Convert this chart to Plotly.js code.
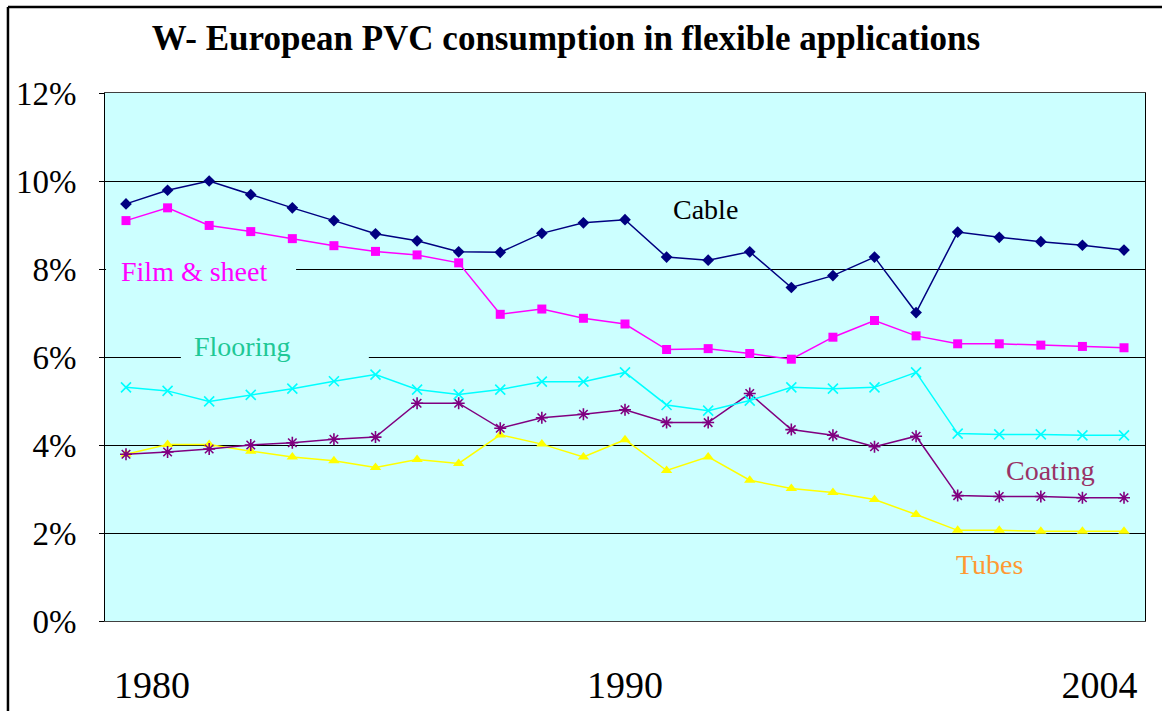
<!DOCTYPE html>
<html>
<head>
<meta charset="utf-8">
<script src="https://cdn.plot.ly/plotly-3.0.1.min.js"></script>
<style>html,body{margin:0;padding:0;background:#fff;}#chart{width:1162px;height:711px;}</style>
</head>
<body>
<div id="chart"></div>
<script>
const years = [1980,1981,1982,1983,1984,1985,1986,1987,1988,1989,1990,1991,1992,1993,1994,1995,1996,1997,1998,1999,2000,2001,2002,2003,2004];
const cable      = [9.48,9.79,10.0,9.69,9.39,9.10,8.80,8.64,8.39,8.38,8.81,9.05,9.12,8.27,8.20,8.39,7.58,7.85,8.27,7.01,8.84,8.72,8.62,8.54,8.43];
const filmSheet  = [9.10,9.39,8.99,8.85,8.69,8.53,8.40,8.32,8.14,6.97,7.09,6.88,6.75,6.17,6.19,6.08,5.95,6.45,6.83,6.48,6.30,6.30,6.27,6.24,6.21];
const flooring   = [5.31,5.23,4.99,5.14,5.28,5.45,5.60,5.26,5.15,5.26,5.44,5.44,5.65,4.91,4.78,5.01,5.31,5.28,5.31,5.65,4.26,4.24,4.24,4.22,4.22];
const coating    = [3.79,3.84,3.91,4.00,4.05,4.13,4.18,4.95,4.95,4.38,4.62,4.70,4.80,4.51,4.51,5.17,4.35,4.22,3.96,4.20,2.85,2.83,2.83,2.80,2.80];
const tubes      = [3.79,4.01,4.01,3.86,3.73,3.64,3.49,3.67,3.58,4.23,4.02,3.73,4.12,3.42,3.73,3.20,3.01,2.92,2.76,2.42,2.06,2.06,2.04,2.04,2.04];
const xTickVals  = [1980.625, 1992, 2003.41];
const xTickText  = ['1980','1990','2004'];
const yTickVals  = [0,2,4,6,8,10,12];
const yTickText  = ['0%','2%','4%','6%','8%','10%','12%'];
const seriesNames = ['Cable','Film & sheet','Flooring','Coating','Tubes'];

const serif = 'Liberation Serif';

function tr(y, name, color, symbol, size, mline) {
  return {
    x: years, y: y, name: name, type: 'scatter', mode: 'lines+markers',
    line: {color: color, width: 1.5},
    marker: {symbol: symbol, size: size, color: color, line: mline || {width: 0}},
    hoverinfo: 'x+y+name'
  };
}

const data = [
  tr(tubes, seriesNames[4], '#FFFF00', 'triangle-up', 10),
  tr(coating, seriesNames[3], '#800080', 'asterisk-open', 10, {color: '#800080', width: 1.6}),
  tr(flooring, seriesNames[2], '#00FFFF', 'x-thin-open', 10, {color: '#00FFFF', width: 1.6}),
  tr(filmSheet, seriesNames[1], '#FF00FF', 'square', 9),
  tr(cable, seriesNames[0], '#000080', 'diamond', 9)
];

const layout = {
  width: 1162, height: 711,
  margin: {l: 105, r: 17, t: 93, b: 90},
  paper_bgcolor: '#FFFFFF',
  plot_bgcolor: '#CCFFFF',
  showlegend: false,
  font: {family: serif, color: '#000'},
  title: {
    text: '<b>W- European PVC consumption in flexible applications</b>',
    font: {family: serif, size: 35, color: '#000'},
    x: 0.487, xanchor: 'center', y: 0.947, yanchor: 'middle'
  },
  xaxis: {
    range: [1979.495, 2004.505],
    tickmode: 'array', tickvals: xTickVals, ticktext: xTickText,
    showgrid: false, zeroline: false,
    showline: true, linecolor: '#404040', linewidth: 1, mirror: true,
    ticks: '', ticklabelstandoff: 30,
    tickfont: {family: serif, size: 38, color: '#000'}
  },
  yaxis: {
    range: [0, 12],
    tickmode: 'array', tickvals: yTickVals, ticktext: yTickText,
    showgrid: true, gridcolor: '#000000', gridwidth: 1,
    zeroline: false,
    showline: true, linecolor: '#000000', linewidth: 1, mirror: true,
    ticks: 'outside', ticklen: 5, tickcolor: '#000',
    ticklabelstandoff: 16,
    tickfont: {family: serif, size: 33, color: '#000'}
  },
  shapes: [
    {type: 'rect', xref: 'x', yref: 'y', x0: 1979.52, x1: 1984.09, y0: 7.9, y1: 8.1, layer: 'between', line: {width: 0}, fillcolor: '#CCFFFF'},
    {type: 'rect', xref: 'x', yref: 'y', x0: 1981.32, x1: 1985.84, y0: 5.9, y1: 6.1, layer: 'between', line: {width: 0}, fillcolor: '#CCFFFF'},
    {type: 'line', xref: 'paper', yref: 'paper', x0: -0.0933, x1: -0.0933, y0: 1.163, y1: -0.3, line: {color: '#000', width: 2.5}},
    {type: 'line', xref: 'paper', yref: 'paper', x0: -0.0933, x1: 1.1, y0: 1.163, y1: 1.163, line: {color: '#000', width: 2.5}}
  ],
  annotations: [
    {text: seriesNames[0], x: 1993.94, y: 9.35, xref: 'x', yref: 'y', showarrow: false, font: {family: serif, size: 28, color: '#000000'}},
    {text: seriesNames[1], x: 1981.63, y: 7.94, xref: 'x', yref: 'y', showarrow: false, font: {family: serif, size: 28, color: '#FF00FF'}},
    {text: seriesNames[2], x: 1982.79, y: 6.23, xref: 'x', yref: 'y', showarrow: false, font: {family: serif, size: 28, color: '#1EC896'}},
    {text: seriesNames[3], x: 2002.24, y: 3.42, xref: 'x', yref: 'y', showarrow: false, font: {family: serif, size: 28, color: '#993366'}},
    {text: seriesNames[4], x: 2000.77, y: 1.28, xref: 'x', yref: 'y', showarrow: false, font: {family: serif, size: 28, color: '#FF9933'}}
  ]
};

Plotly.newPlot('chart', data, layout, {displayModeBar: false, staticPlot: true});
</script>
</body>
</html>
